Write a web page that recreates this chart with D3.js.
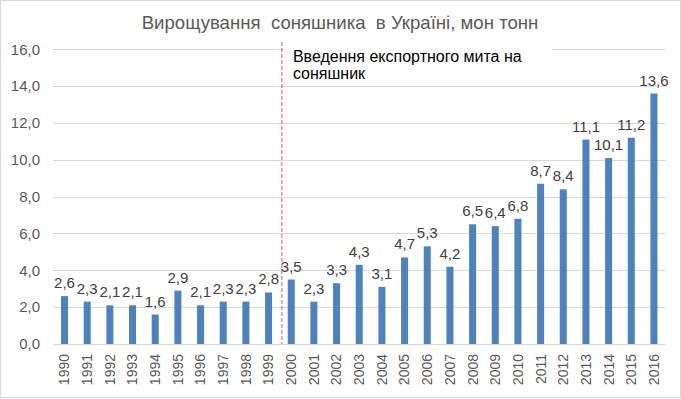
<!DOCTYPE html>
<html><head><meta charset="utf-8">
<script src="https://cdn.jsdelivr.net/npm/d3@7"></script>
<style>body{margin:0;background:#fff}svg{display:block;font-family:"Liberation Sans",Arial,sans-serif}</style>
</head><body>
<svg id="c" width="681" height="399"></svg>
<script>
const years = ["1990","1991","1992","1993","1994","1995","1996","1997","1998","1999","2000","2001","2002","2003","2004","2005","2006","2007","2008","2009","2010","2011","2012","2013","2014","2015","2016"];
const production = [2.6,2.3,2.1,2.1,1.6,2.9,2.1,2.3,2.3,2.8,3.5,2.3,3.3,4.3,3.1,4.7,5.3,4.2,6.5,6.4,6.8,8.7,8.4,11.1,10.1,11.2,13.6];
const yTicks = [0,2,4,6,8,10,12,14,16];
const title = "Вирощування  соняшника  в Україні, мон тонн";
const noteLines = ["Введення експортного мита на","соняшник"];
const noteYear = "2000";

const svg = d3.select("#c");
svg.append("rect").attr("x",0.5).attr("y",0.5).attr("width",680).attr("height",397)
  .attr("fill","#fff").attr("stroke","#d9d9d9");

const x = d3.scaleBand().domain(years).range([53.2,665.3]).paddingInner(0.69).paddingOuter(0.345);
const y = d3.scaleLinear().domain([0,16]).range([344,49.3]);
const fmt = v => d3.format(".1f")(v).replace(".",",");

// grid
svg.append("g").selectAll("line").data(yTicks).join("line")
  .attr("x1",53).attr("x2",666).attr("y1",d=>Math.round(y(d))+0.5).attr("y2",d=>Math.round(y(d))+0.5)
  .attr("stroke","#d9d9d9").attr("stroke-width",1);

// y labels
const ya = svg.append("g").attr("transform","translate(40,0)")
  .call(d3.axisLeft(y).tickValues(yTicks).tickSize(0).tickPadding(0).tickFormat(fmt));
ya.select(".domain").remove();
ya.selectAll("text").attr("fill","#595959").style("font-size","15px").style("font-family","Liberation Sans, Arial, sans-serif");

// bars
svg.append("g").selectAll("rect").data(production).join("rect")
  .attr("x",(d,i)=>x(years[i])).attr("width",x.bandwidth())
  .attr("y",d=>y(d)).attr("height",d=>y(0)-y(d)).attr("fill","#4f81bd");

// value labels
svg.append("g").selectAll("text").data(production).join("text")
  .attr("x",(d,i)=>x(years[i])+x.bandwidth()/2).attr("y",d=>y(d)-8)
  .attr("text-anchor","middle").attr("fill","#404040").style("font-size","15px")
  .text(fmt);

// x axis labels
const xa = svg.append("g").attr("transform",`translate(0,${y(0)})`)
  .call(d3.axisBottom(x).tickSize(0).tickPadding(0));
xa.select(".domain").remove();
xa.selectAll("text").attr("transform","rotate(-90)").attr("text-anchor","end")
  .attr("x",-10).attr("y",0).attr("dy","0.35em")
  .attr("fill","#595959").style("font-size","14px").style("font-family","Liberation Sans, Arial, sans-serif");

// annotation
const lx = x(noteYear) - (x.step()-x.bandwidth())/2 + 2;
svg.append("rect").attr("x",lx+2).attr("y",44).attr("width",268).attr("height",40).attr("fill","#fff");
svg.append("line").attr("x1",lx).attr("x2",lx).attr("y1",42).attr("y2",y(0))
  .attr("stroke","#e8545a").attr("stroke-width",1).attr("stroke-dasharray","4,2");
svg.append("text").attr("x",lx+11).attr("y",62).attr("fill","#000").style("font-size","16px")
  .selectAll("tspan").data(noteLines).join("tspan").attr("x",lx+11).attr("dy",(d,i)=>i?17:0).text(d=>d);

// title
svg.append("text").attr("x",340).attr("y",29).attr("text-anchor","middle")
  .style("white-space","pre")
  .attr("fill","#595959").style("font-size","18.6px").text(title);
</script>
</body></html>
